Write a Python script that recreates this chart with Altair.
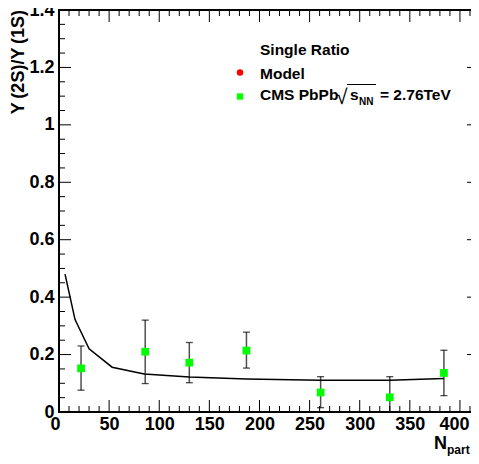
import altair as alt
import pandas as pd

# ---- data ----
npart = [22, 86, 130, 187, 261, 330, 384]
ratio = [0.152, 0.210, 0.172, 0.214, 0.068, 0.051, 0.136]
err_lo = [0.076, 0.099, 0.102, 0.153, 0.015, 0.0, 0.057]
err_hi = [0.230, 0.320, 0.242, 0.278, 0.123, 0.123, 0.215]

model_x = [6, 16, 30, 53, 85, 130, 187, 261, 330, 384]
model_y = [0.48, 0.322, 0.22, 0.156, 0.132, 0.122, 0.115, 0.111, 0.111, 0.117]

x_major = [0, 50, 100, 150, 200, 250, 300, 350, 400]
x_minor = [10, 20, 30, 40, 60, 70, 80, 90, 110, 120, 130, 140, 160, 170, 180, 190,
           210, 220, 230, 240, 260, 270, 280, 290, 310, 320, 330, 340, 360, 370,
           380, 390, 410]
y_major = [0, 0.2, 0.4, 0.6, 0.8, 1.0, 1.2, 1.4]
y_minor = [0.05, 0.1, 0.15, 0.25, 0.3, 0.35, 0.45, 0.5, 0.55, 0.65, 0.7, 0.75,
           0.85, 0.9, 0.95, 1.05, 1.1, 1.15, 1.25, 1.3, 1.35]

y_title = ["Υ\u2009(2S)/Υ\u2009(1S)"]
x_title_main = ["N"]
x_title_sub = ["part"]
leg_header = ["Single Ratio"]
leg_model = ["Model"]
leg_cms_a = ["CMS PbPb"]
leg_cms_root = ["√"]
leg_cms_s = ["s"]
leg_cms_nn = ["NN"]
leg_cms_b = ["= 2.76TeV"]

W, H = 420, 402
FONT = "Liberation Sans"

xscale = alt.Scale(domain=[0, 419], nice=False, zero=False)
yscale = alt.Scale(domain=[0, 1.4], nice=False, zero=False)
xaxis = alt.Axis(values=x_major, title=None, ticks=False, tickSize=0, domain=False,
                 grid=False, labelFont=FONT, labelFontSize=18, labelFontWeight="bold",
                 labelColor="black", labelPadding=3, labelFlush=20, labelFlushOffset=9,
                 labelOverlap=False, format="d")
yaxis = alt.Axis(values=y_major, title=None, ticks=False, tickSize=0, domain=False,
                 grid=False, labelFont=FONT, labelFontSize=18, labelFontWeight="bold",
                 labelColor="black", labelPadding=5, labelFlush=False, labelOverlap=False,
                 format="~g")

X = lambda f: alt.X(f, type="quantitative", scale=xscale, axis=xaxis)
Y = lambda f: alt.Y(f, type="quantitative", scale=yscale, axis=yaxis)

pts = pd.DataFrame({"x": npart, "y": ratio, "lo": err_lo, "hi": err_hi})
model = pd.DataFrame({"x": model_x, "y": model_y})

bars = alt.Chart(pts).mark_rule(color="#505050", strokeWidth=1.5).encode(
    x=X("x"), y=Y("lo"), y2="hi")
cap_hi = alt.Chart(pts).mark_tick(color="black", thickness=1.3, size=7,
                                  orient="horizontal").encode(x=X("x"), y=Y("hi"))
cap_lo = alt.Chart(pts).mark_tick(color="black", thickness=1.3, size=7,
                                  orient="horizontal").encode(x=X("x"), y=Y("lo"))
line = alt.Chart(model).mark_line(color="black", strokeWidth=1.5).encode(
    x=X("x"), y=Y("y"))
squares = alt.Chart(pts).mark_point(shape="square", filled=True, size=60,
                                    color="#00ff00", opacity=1).encode(
    x=X("x"), y=Y("y"))

xmaj = pd.DataFrame({"x": x_major})
xmin = pd.DataFrame({"x": x_minor})
ymaj = pd.DataFrame({"y": y_major})
ymin = pd.DataFrame({"y": y_minor})

tick_layers = [
    alt.Chart(xmaj).mark_rule(color="black", strokeWidth=1).encode(
        x=X("x"), y=alt.value(H), y2=alt.value(H - 12)),
    alt.Chart(xmin).mark_rule(color="black", strokeWidth=1).encode(
        x=X("x"), y=alt.value(H), y2=alt.value(H - 6)),
    alt.Chart(xmaj).mark_rule(color="black", strokeWidth=1).encode(
        x=X("x"), y=alt.value(0), y2=alt.value(12)),
    alt.Chart(xmin).mark_rule(color="black", strokeWidth=1).encode(
        x=X("x"), y=alt.value(0), y2=alt.value(6)),
    alt.Chart(ymaj).mark_rule(color="black", strokeWidth=1).encode(
        y=Y("y"), x=alt.value(0), x2=alt.value(12)),
    alt.Chart(ymin).mark_rule(color="black", strokeWidth=1).encode(
        y=Y("y"), x=alt.value(0), x2=alt.value(6)),
    alt.Chart(ymaj).mark_rule(color="black", strokeWidth=1).encode(
        y=Y("y"), x=alt.value(W - 12), x2=alt.value(W)),
    alt.Chart(ymin).mark_rule(color="black", strokeWidth=1).encode(
        y=Y("y"), x=alt.value(W - 6), x2=alt.value(W)),
]


def txt(lst, x, y, size, weight="bold", align="left", baseline="alphabetic", angle=0):
    kw = dict(font=FONT, fontSize=size, fontWeight=weight, align=align,
              baseline=baseline, color="black")
    if angle:
        kw["angle"] = angle
    return alt.Chart(pd.DataFrame({"t": lst})).mark_text(**kw).encode(
        text="t:N", x=alt.value(x), y=alt.value(y))


texts = [
    txt(y_title, -40.5, 0, 18, align="right", baseline="middle", angle=270),
    txt(x_title_main, 375, 439, 18),
    txt(x_title_sub, 388, 444, 12),
    txt(leg_header, 201, 44.5, 15.5),
    txt(leg_model, 201, 69, 15.5),
    txt(leg_cms_a, 201, 90, 15.5),
    txt(leg_cms_root, 277, 94, 21, weight="normal"),
    txt(leg_cms_s, 291, 90, 15.5),
    txt(leg_cms_nn, 300, 95, 10),
    txt(leg_cms_b, 321, 90, 15.5),
]

overbar = alt.Chart(pd.DataFrame({"t": leg_cms_s})).mark_rule(
    color="black", strokeWidth=1).encode(
    x=alt.value(288), x2=alt.value(317), y=alt.value(74.5))

legend_dot = alt.Chart(pd.DataFrame({"t": leg_model})).mark_point(
    shape="circle", filled=True, size=42, color="red", opacity=1).encode(
    x=alt.value(181), y=alt.value(62.5))
legend_sq = alt.Chart(pd.DataFrame({"t": leg_cms_a})).mark_point(
    shape="square", filled=True, size=40, color="#00ff00", opacity=1).encode(
    x=alt.value(181), y=alt.value(86.5))

chart = alt.layer(
    bars, cap_hi, cap_lo, line, squares, *tick_layers, *texts, overbar,
    legend_dot, legend_sq
).properties(
    width=W, height=H,
    autosize=alt.AutoSizeParams(type="none"),
    padding={"left": 51, "top": 2, "right": -8, "bottom": 44},
    background="white",
).configure_view(stroke="black", strokeWidth=2)

chart.save("out.html", embed_options={"renderer": "svg", "actions": False})
